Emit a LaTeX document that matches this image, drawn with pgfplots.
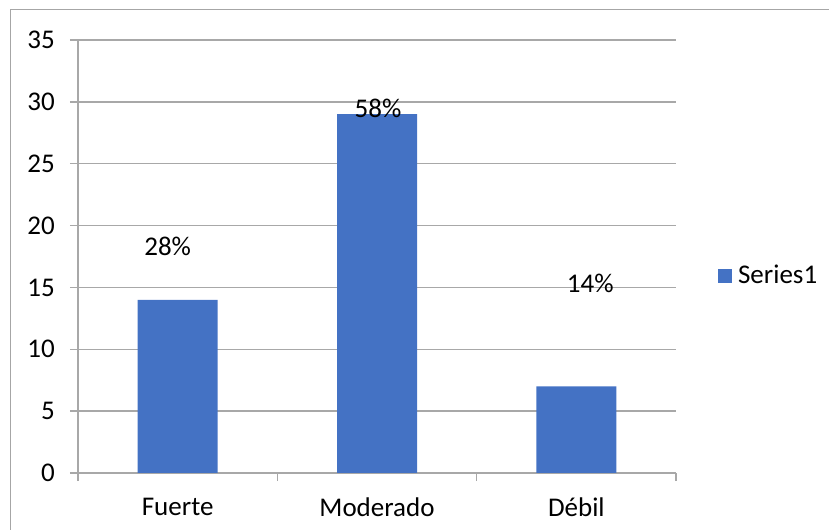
\documentclass[border=0pt]{standalone}
\usepackage{pgfplots}
\pgfplotsset{compat=1.18}
\usepackage{fontspec}
\setmainfont{Carlito}
\definecolor{barblue}{HTML}{4472C4}
\definecolor{gridgray}{HTML}{A8A8A8}
\definecolor{framegray}{HTML}{A6A6A6}
\begin{document}
\fontsize{27bp}{32bp}\selectfont
\begin{tikzpicture}
\useasboundingbox (0,0) rectangle (829bp,530bp);
% chart frame
\draw[framegray, line width=1bp] (10bp,-20bp) rectangle (850bp,520bp);
\begin{axis}[
  at={(78bp,57bp)}, anchor=south west,
  scale only axis, width=598bp, height=433bp,
  xmin=-0.5, xmax=2.5, ymin=0, ymax=35,
  ytick={0,5,...,35},
  xtick={-0.5,0.5,1.5,2.5},
  xticklabels={Fuerte,Moderado,Débil},
  x tick label as interval,
  axis x line*=bottom, axis y line*=left,
  axis line style={gridgray, line width=1.3bp, -},
  tick align=outside,
  major tick length=8bp,
  tick style={gridgray, line width=1.3bp},
  ymajorgrids, grid style={gridgray, line width=1.3bp},
  yticklabel style={xshift=-6bp},
  xticklabel style={yshift=-8bp},
  ybar, bar width=80bp,
  legend style={at={(1.07,0.455)}, anchor=west, draw=none, fill=none,
    inner sep=0pt},
  legend image code/.code={\fill[barblue] (0bp,-7bp) rectangle (14bp,7bp);},
  legend cell align=left,
  /pgf/number format/assume math mode=true,
]
\addplot[fill=barblue, draw=none] coordinates {(0,14) (1,29) (2,7)};
\addlegendentry{\hspace{4bp}Series1}
\node at (axis cs:-0.05,18.3) {28\%};
\node at (axis cs:1.005,29.5) {58\%};
\node at (axis cs:2.07,15.3) {14\%};
\end{axis}
\end{tikzpicture}
\end{document}
